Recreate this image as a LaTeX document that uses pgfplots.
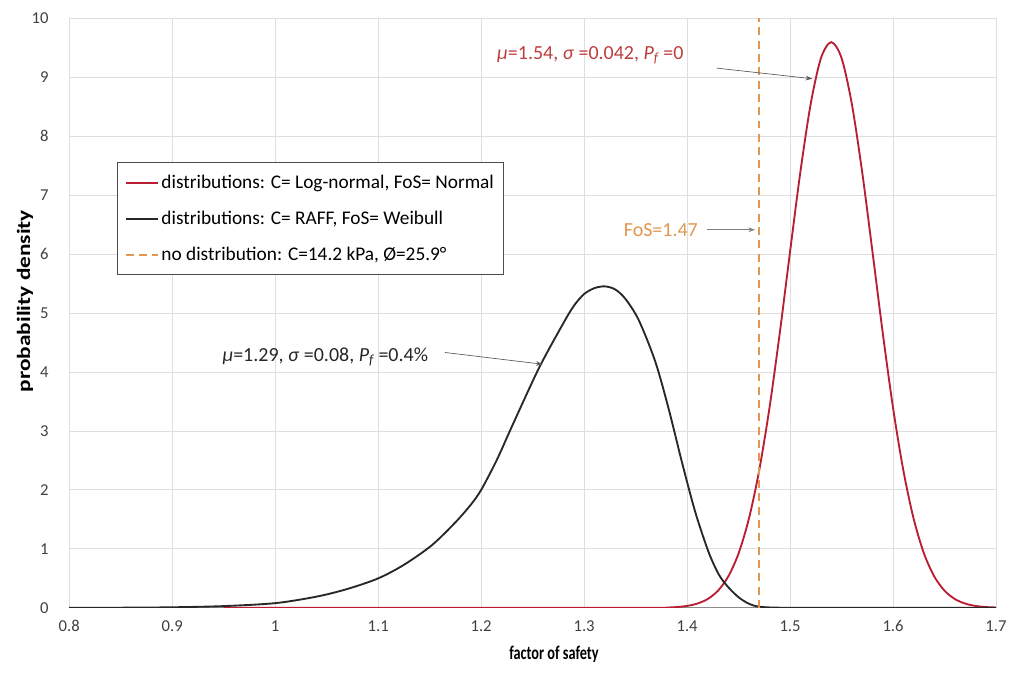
\documentclass[border=0pt]{standalone}
\usepackage{graphicx}
\usepackage{pgfplots}
\pgfplotsset{compat=1.18}
\usepackage{fontspec}
\setmainfont{Carlito}
\usetikzlibrary{arrows.meta}
\definecolor{cred}{RGB}{185,30,50}
\definecolor{cblack}{RGB}{40,40,40}
\definecolor{corange}{RGB}{226,150,80}
\definecolor{ctxtred}{RGB}{190,60,60}
\definecolor{gridc}{RGB}{222,222,222}
\begin{document}
\begin{tikzpicture}
\begin{axis}[
  name=ax,
  scale only axis,
  width=696pt, height=443pt,
  xmin=0.8, xmax=1.7, ymin=0, ymax=10,
  xtick={0.8,0.9,1,1.1,1.2,1.3,1.4,1.5,1.6,1.7},
  xticklabels={0.8,0.9,1,1.1,1.2,1.3,1.4,1.5,1.6,1.7},
  ytick={0,1,...,10},
  /pgf/number format/assume math mode=true,
  tick label style={font=\fontsize{12.5}{14}\selectfont, text=black!75},
  xticklabel style={yshift=-6pt},
  yticklabel style={xshift=-12pt},
  major tick length=0pt,
  grid=major,
  major grid style={gridc, line width=0.6pt},
  axis x line*=bottom, axis y line*=left,
  x axis line style={draw=black!45, line width=0.8pt, -},
  y axis line style={draw=none},
  xlabel={\scalebox{0.74}[1]{\bfseries\fontsize{14.5}{16}\selectfont factor of safety}},
  ylabel={\scalebox{1}[0.81]{\bfseries\fontsize{17.5}{20}\selectfont probability density}},
  xlabel style={at={(ticklabel cs:0.523)}, anchor=near ticklabel, yshift=-4pt},
  ylabel style={at={(ticklabel cs:0.52)}, anchor=near ticklabel, yshift=-8pt},
  legend style={at={(0.052,0.755)}, anchor=north west, draw=black!70, line width=0.6pt,
    font=\fontsize{14.5}{16}\selectfont, row sep=11.5pt, inner xsep=5pt, inner ysep=7pt},
  legend cell align=left,
  legend image code/.code={\draw[#1] (0cm,0cm) -- (0.85cm,0cm);},
]
\addlegendimage{draw=cred, line width=1.4pt}
\addlegendentry{distributions: C= Log-normal, FoS= Normal}
\addlegendimage{draw=cblack, line width=1.4pt}
\addlegendentry{distributions: C= RAFF, FoS= Weibull}
\addlegendimage{draw=corange, line width=1.6pt, dash pattern=on 6pt off 4pt}
\addlegendentry{no distribution: C=14.2 kPa, Ø=25.9°}
\addplot[draw=cred, line width=1.4pt, smooth, forget plot] coordinates {
(0.95,0) (1.35,0.002) (1.38,0.006) (1.39,0.014) (1.40,0.033) (1.41,0.073) (1.42,0.150)
(1.43,0.291) (1.44,0.533) (1.45,0.924) (1.46,1.51) (1.47,2.33) (1.48,3.39)
(1.49,4.66) (1.50,6.04) (1.51,7.39) (1.52,8.54) (1.53,9.32) (1.54,9.59)
(1.55,9.32) (1.56,8.54) (1.57,7.39) (1.58,6.04) (1.59,4.66) (1.60,3.39)
(1.61,2.33) (1.62,1.51) (1.63,0.924) (1.64,0.533) (1.65,0.291) (1.66,0.150)
(1.67,0.073) (1.68,0.033) (1.69,0.014) (1.70,0.006)
};
\addplot[draw=cblack, line width=1.4pt, smooth, forget plot] coordinates {
(0.80,0) (0.85,0.003) (0.90,0.01) (0.95,0.03) (1.00,0.08) (1.04,0.19) (1.07,0.32)
(1.10,0.50) (1.125,0.73) (1.152,1.06) (1.175,1.45) (1.19,1.75) (1.20,2.00) (1.215,2.50)
(1.23,3.08) (1.256,4.06) (1.279,4.80) (1.29,5.12) (1.30,5.32) (1.31,5.42)
(1.32,5.45) (1.33,5.40) (1.34,5.24) (1.353,4.88) (1.369,4.18) (1.382,3.38) (1.395,2.47)
(1.408,1.62) (1.421,0.94) (1.431,0.56) (1.44,0.35) (1.45,0.18) (1.46,0.07)
(1.47,0.02) (1.49,0.003) (1.55,0) (1.70,0)
};
\addplot[draw=corange, line width=1.6pt, dash pattern=on 6pt off 4pt, forget plot] coordinates {(1.47,0) (1.47,10)};
% annotations
\node[anchor=east, text=ctxtred, font=\fontsize{15}{17}\selectfont] at (axis cs:1.401,9.37)
  {\textit{μ}=1.54, \textit{σ} =0.042, \textit{P\textsubscript{f}} =0};
\draw[black!65, line width=0.5pt, -{Stealth[length=5pt,width=3.5pt]}] (axis cs:1.4286,9.15) -- (axis cs:1.5216,8.97);
\node[anchor=east, text=corange, font=\fontsize{15}{17}\selectfont] at (axis cs:1.415,6.41) {FoS=1.47};
\draw[black!50, line width=0.5pt, -{Stealth[length=5pt,width=3.5pt]}] (axis cs:1.419,6.41) -- (axis cs:1.466,6.41);
\node[anchor=east, text=black!85, font=\fontsize{15}{17}\selectfont] at (axis cs:1.153,4.25)
  {\textit{μ}=1.29, \textit{σ} =0.08, \textit{P\textsubscript{f}} =0.4\%};
\draw[black!65, line width=0.5pt, -{Stealth[length=5pt,width=3.5pt]}] (axis cs:1.1647,4.33) -- (axis cs:1.2598,4.13);
\end{axis}
\path (ax.south west) ++(-52pt,-49.5pt);
\path (ax.north east) ++(10pt,13.5pt);
\end{tikzpicture}
\end{document}
